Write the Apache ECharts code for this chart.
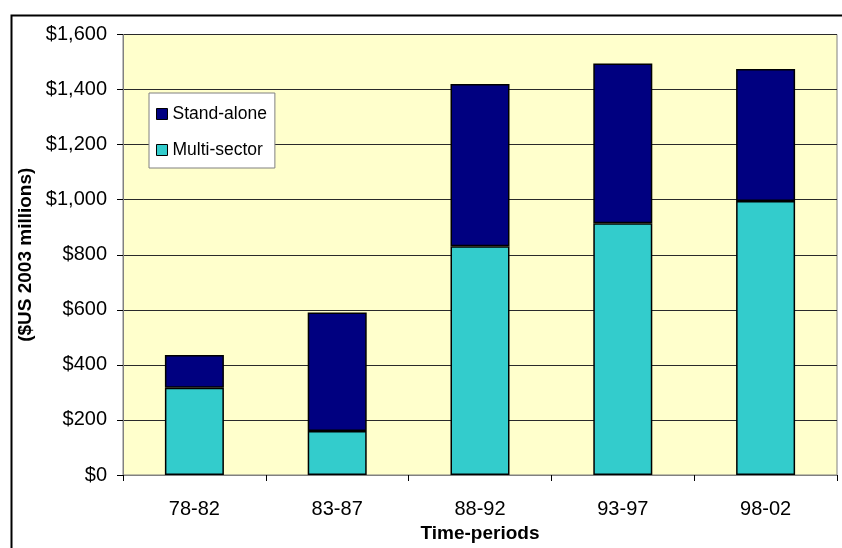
<!DOCTYPE html>
<html>
<head>
<meta charset="utf-8">
<script src="https://cdn.jsdelivr.net/npm/echarts@6/dist/echarts.min.js"></script>
<style>html,body{margin:0;padding:0;background:#fff}#c{width:842px;height:548px}</style>
</head>
<body>
<div id="c"></div>
<script>
const categories = ['78-82', '83-87', '88-92', '93-97', '98-02'];
const multiSector = [317, 160, 831, 914, 995];
const standAlone = [119, 430, 589, 581, 480];
const yTicks = [0, 200, 400, 600, 800, 1000, 1200, 1400, 1600];

const chart = echarts.init(document.getElementById('c'), null, {renderer: 'canvas'});
const font = 'Liberation Sans, Arial, sans-serif';
function fmt(v) { return '$' + v.toLocaleString('en-US'); }

chart.setOption({
  animation: false,
  textStyle: {fontFamily: font},
  graphic: [{
    type: 'rect', left: 9, top: 13, z: -10, silent: true,
    shape: {width: 900, height: 600},
    style: {fill: 'none', stroke: '#000', lineWidth: 2}
  }],
  grid: {
    left: 123, top: 34.5, right: 5, bottom: 73,
    show: true, backgroundColor: '#FFFFCC', borderColor: '#808080', borderWidth: 1
  },
  legend: {
    orient: 'vertical', left: 149, top: 93,
    data: ['Stand-alone', 'Multi-sector'],
    backgroundColor: '#fff', borderColor: '#808080', borderWidth: 1,
    padding: [12, 8, 9, 7], itemGap: 18,
    itemWidth: 11, itemHeight: 11, icon: 'rect',
    itemStyle: {borderColor: '#000', borderWidth: 1},
    textStyle: {fontSize: 17.5, color: '#000', fontFamily: font, padding: [0, 0, 0, 0]}
  },
  xAxis: {
    type: 'category', data: categories,
    axisLine: {lineStyle: {color: '#808080', width: 1}},
    axisTick: {show: true, length: 6, lineStyle: {color: '#000'}},
    axisLabel: {fontSize: 20, color: '#000', margin: 24},
    name: 'Time-periods', nameLocation: 'middle', nameGap: 42,
    nameTextStyle: {fontSize: 19, fontWeight: 'bold', color: '#000'}
  },
  yAxis: {
    type: 'value', min: 0, max: 1600, interval: 200,
    axisLine: {show: true, lineStyle: {color: '#808080', width: 1}},
    axisTick: {show: true, length: 6, lineStyle: {color: '#000'}},
    axisLabel: {fontSize: 20, color: '#000', margin: 16, formatter: v => yTicks.includes(v) ? fmt(v) : ''},
    splitLine: {show: true, lineStyle: {color: '#2a2a2a', width: 1}},
    name: '($US 2003 millions)', nameLocation: 'middle', nameGap: 84,
    nameTextStyle: {fontSize: 19, fontWeight: 'bold', color: '#000'}
  },
  series: [
    {
      name: 'Multi-sector', type: 'bar', stack: 'a', data: multiSector, barWidth: 59,
      itemStyle: {color: '#33CCCC', borderColor: '#000', borderWidth: 1.5}
    },
    {
      name: 'Stand-alone', type: 'bar', stack: 'a', data: standAlone, barWidth: 59,
      itemStyle: {color: '#000080', borderColor: '#000', borderWidth: 1.5}
    }
  ]
});
</script>
</body>
</html>
